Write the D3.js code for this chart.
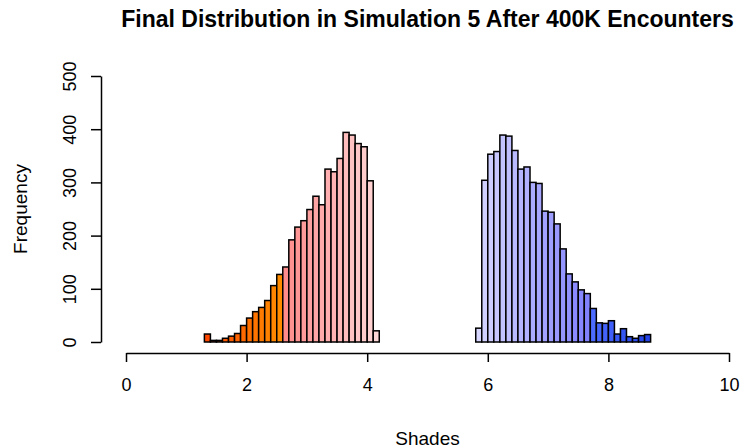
<!DOCTYPE html>
<html>
<head>
<meta charset="utf-8">
<script src="https://cdn.jsdelivr.net/npm/d3@7"></script>
<style>
  body { margin: 0; background: #fff; }
  svg { display: block; font-family: "Liberation Sans", Arial, sans-serif; }
</style>
</head>
<body>
<svg width="742" height="448"></svg>
<script>
// histogram bins of width 0.1 from 0 to 10
var binWidth = 0.1;
var counts = [
  0, 0, 0, 0, 0, 0, 0, 0, 0, 0,
  0, 0, 0, 15, 3, 3, 7, 11, 16, 31,
  45, 57, 65, 78, 106, 127, 141, 192, 216, 228,
  249, 274, 258, 325, 320, 345, 394, 389, 373, 367,
  303, 21, 0, 0, 0, 0, 0, 0, 0, 0,
  0, 0, 0, 0, 0, 0, 0, 0, 26, 304,
  353, 358, 389, 387, 360, 325, 329, 300, 298, 246,
  244, 222, 175, 128, 113, 98, 91, 63, 36, 35,
  40, 15, 25, 10, 7, 12, 14, 0, 0, 0,
  0, 0, 0, 0, 0, 0, 0, 0, 0, 0
];
var xTicks = [0, 2, 4, 6, 8, 10];
var yTicks = [0, 100, 200, 300, 400, 500];

var svg = d3.select("svg");

var x = d3.scaleLinear().domain([0, 10]).range([126, 729]);
var y = d3.scaleLinear().domain([0, 500]).range([342, 76]);

// colour ramps for the shades
var orange = d3.scaleLinear().domain([1.3, 2.5]).range(["#ff4800", "#ff8c00"]);
var pink = d3.scaleLinear().domain([2.6, 4.1]).range(["#ff8c8c", "#ffd6d6"]);
var blue = d3.scaleLinear().domain([5.8, 7.6, 7.7, 8.6])
  .range(["#d6d6ff", "#8282ff", "#4c6cff", "#2444ea"]);

var fillFor = function(s) {
  if (s < 2.55) return orange(s);
  if (s < 5) return pink(s);
  if (s < 7.65) return blue(Math.max(s, 5.8));
  return blue(s);
};

var bins = counts.map(function(c, i) {
  return { x0: +(i * binWidth).toFixed(1), n: c };
});

svg.append("g").selectAll("rect").data(bins).enter()
  .append("rect")
  .attr("x", function(d) { return x(d.x0); })
  .attr("y", function(d) { return y(d.n); })
  .attr("width", function(d) { return x(d.x0 + binWidth) - x(d.x0); })
  .attr("height", function(d) { return y(0) - y(d.n); })
  .style("fill", function(d) { return fillFor(d.x0); })
  .style("stroke", "#000")
  .style("stroke-width", 1.5);

var xAxis = svg.append("g")
  .attr("transform", "translate(0,353)")
  .call(d3.axisBottom(x).tickValues(xTicks).tickSize(9).tickSizeOuter(0).tickPadding(16));

var yAxis = svg.append("g")
  .attr("transform", "translate(101,0)")
  .call(d3.axisLeft(y).tickValues(yTicks).tickSize(10).tickSizeOuter(0));

svg.selectAll(".domain, .tick line").style("stroke", "#000").style("stroke-width", 1.5);
xAxis.selectAll("text").style("font-size", "18px").style("fill", "#000")
  .style("font-family", "Liberation Sans, Arial, sans-serif");

yAxis.selectAll(".tick text")
  .attr("x", null).attr("dy", null)
  .attr("text-anchor", "middle")
  .attr("transform", "translate(-25,0) rotate(-90)")
  .style("font-size", "18px").style("fill", "#000")
  .style("font-family", "Liberation Sans, Arial, sans-serif");

svg.append("text")
  .attr("x", 427.5).attr("y", 27)
  .attr("text-anchor", "middle")
  .style("font-size", "23px").style("font-weight", "bold")
  .text("Final Distribution in Simulation 5 After 400K Encounters");

svg.append("text")
  .attr("x", 427.5).attr("y", 445)
  .attr("text-anchor", "middle")
  .style("font-size", "19px")
  .text("Shades");

svg.append("text")
  .attr("transform", "translate(27,209) rotate(-90)")
  .attr("text-anchor", "middle")
  .style("font-size", "19px")
  .text("Frequency");
</script>
</body>
</html>
